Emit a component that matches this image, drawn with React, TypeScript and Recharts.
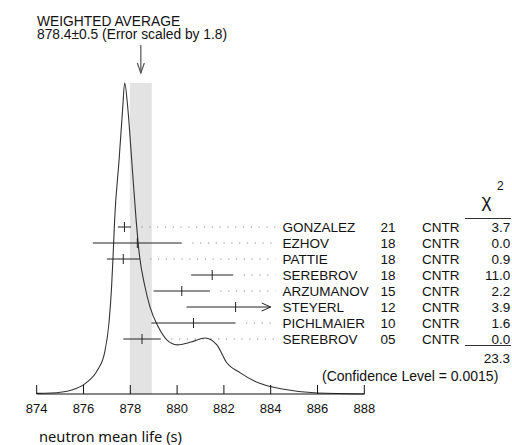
import React from "react";
import {
  ComposedChart,
  ErrorBar,
  Line,
  ReferenceArea,
  ReferenceDot,
  ReferenceLine,
  Scatter,
  XAxis,
  YAxis,
} from "recharts";

// ideogram curve (relative height, peak = 1)
const ideoX = [
  874.0, 874.6, 875.5, 876.1, 876.6, 876.9, 877.1, 877.2, 877.27, 877.33,
  877.52, 877.67, 877.76, 877.9, 878.06, 878.25, 878.38, 878.63, 878.84,
  879.2, 879.56, 880.0, 880.6, 881.2, 881.7, 882.1, 882.7, 883.5, 884.5,
  886.0, 888.0,
];
const ideoY = [
  0.002, 0.003, 0.013, 0.035, 0.077, 0.132, 0.238, 0.344, 0.453, 0.559,
  0.752, 0.913, 1.0, 0.913, 0.752, 0.559, 0.453, 0.344, 0.28, 0.215, 0.174,
  0.158, 0.167, 0.18, 0.158, 0.103, 0.068, 0.035, 0.016, 0.003, 0.0,
];

const names = [
  "GONZALEZ",
  "EZHOV",
  "PATTIE",
  "SEREBROV",
  "ARZUMANOV",
  "STEYERL",
  "PICHLMAIER",
  "SEREBROV",
];
const years = ["21", "18", "18", "18", "15", "12", "10", "05"];
const techs = ["CNTR", "CNTR", "CNTR", "CNTR", "CNTR", "CNTR", "CNTR", "CNTR"];
const values = [877.75, 878.3, 877.7, 881.5, 880.2, 882.5, 880.7, 878.5];
const errors = [0.28, 1.9, 0.7, 0.9, 1.2, 2.1, 1.8, 0.8];
const chi2 = ["3.7", "0.0", "0.9", "11.0", "2.2", "3.9", "1.6", "0.0"];

const xTicks = [874, 876, 878, 880, 882, 884, 886, 888];
const average = 878.45;
const averageErr = 0.47;
const chi2Total = "23.3";
const confidence = "0.0015";

const barLimit = 884.0; // bars running into the labels are cut with an arrow
const dotsEnd = 884.2;
const labelX = 884.5;

const curveData = ideoX.map((x, i) => ({ x, h: ideoY[i] }));
const rows = values.map((v, i) => ({
  x: v,
  row: i,
  err: [errors[i], Math.min(errors[i], barLimit - v)],
}));
const labelRows = names.map((n, i) => ({ x: labelX, row: i }));

const font = "'Liberation Sans', Arial, Helvetica, sans-serif";

function Marker(props: any) {
  const { cx, cy } = props;
  return <line x1={cx} x2={cx} y1={cy - 5} y2={cy + 5} stroke="#222" strokeWidth={1} />;
}

function RowLabel(props: any) {
  const { cx, cy, payload } = props;
  const i = payload.row;
  const y = cy + 5;
  return (
    <g fontSize={13.5} fill="#111">
      <text x={cx} y={y}>{names[i]}</text>
      <text x={cx + 98} y={y}>{years[i]}</text>
      <text x={cx + 139.5} y={y}>{techs[i]}</text>
      <text x={cx + 228} y={y} textAnchor="end">{chi2[i]}</text>
    </g>
  );
}

function ArrowHead(props: any) {
  const { cx, cy } = props;
  return (
    <path
      d={`M${cx - 9},${cy - 4} L${cx},${cy} L${cx - 9},${cy + 4}`}
      fill="none"
      stroke="#222"
      strokeWidth={1}
    />
  );
}

function AverageArrow(props: any) {
  const { cx, cy } = props;
  return (
    <g stroke="#555" strokeWidth={1.2} fill="none">
      <line x1={cx} x2={cx} y1={cy - 38} y2={cy - 10} />
      <path d={`M${cx - 3.5},${cy - 20} L${cx},${cy - 10} L${cx + 3.5},${cy - 20}`} />
    </g>
  );
}

export default function App() {
  return (
    <div
      style={{
        position: "absolute",
        left: 0,
        top: 0,
        width: 512,
        height: 445,
        background: "#fff",
        fontFamily: font,
      }}
    >
      <ComposedChart
        width={512}
        height={445}
        margin={{ top: 68, right: 147.7, bottom: 21, left: 36.7 }}
      >
        <XAxis
          dataKey="x"
          type="number"
          domain={[874, 888]}
          ticks={xTicks}
          height={30}
          stroke="#111"
          tickSize={-9}
          tickMargin={19}
          tick={{ fontSize: 13, fill: "#111" }}
        />
        <YAxis
          yAxisId="h"
          dataKey="h"
          type="number"
          domain={[0, 1.048]}
          width={0}
          tick={false}
          tickLine={false}
          stroke="#111"
        />
        <YAxis
          yAxisId="rows"
          dataKey="row"
          type="number"
          domain={[-9.9375, 10.4375]}
          reversed
          hide
        />
        <ReferenceArea
          yAxisId="h"
          x1={average - averageErr}
          x2={average + averageErr}
          y1={0}
          y2={1}
          fill="#e3e3e3"
          fillOpacity={1}
          stroke="none"
        />
        {rows
          .filter((r) => r.x + r.err[1] < barLimit - 0.3)
          .map((r) => (
            <ReferenceLine
              key={`dots-${r.row}`}
              yAxisId="rows"
              segment={[
                { x: r.x + r.err[1] + 0.45, y: r.row },
                { x: dotsEnd, y: r.row },
              ]}
              stroke="#888"
              strokeDasharray="1.2 6.6"
              strokeWidth={1}
            />
          ))}
        <Line
          yAxisId="h"
          data={curveData}
          dataKey="h"
          type="monotone"
          stroke="#333"
          strokeWidth={1.1}
          dot={false}
          isAnimationActive={false}
        />
        <Scatter
          yAxisId="rows"
          data={rows}
          dataKey="row"
          shape={Marker}
          isAnimationActive={false}
        >
          <ErrorBar dataKey="err" direction="x" width={0} stroke="#222" strokeWidth={1} />
        </Scatter>
        {rows
          .filter((r) => r.err[1] < r.err[0])
          .map((r) => (
            <ReferenceDot
              key={`arrow-${r.row}`}
              yAxisId="rows"
              x={barLimit}
              y={r.row}
              shape={ArrowHead}
            />
          ))}
        <Scatter
          yAxisId="rows"
          data={labelRows}
          dataKey="row"
          shape={RowLabel}
          isAnimationActive={false}
        />
        <ReferenceDot
          yAxisId="h"
          x={average}
          y={1}
          ifOverflow="visible"
          shape={AverageArrow}
        />
      </ComposedChart>
      <svg
        width={512}
        height={445}
        style={{ position: "absolute", left: 0, top: 0, pointerEvents: "none" }}
      >
        <g fill="#111" fontSize={13.8}>
          <text x={37} y={25.5}>WEIGHTED AVERAGE</text>
          <text x={37} y={39}>878.4±0.5 (Error scaled by 1.8)</text>
        </g>
        <text x={481.5} y={207} fontSize={19} fill="#111">χ</text>
        <text x={497} y={190} fontSize={12} fill="#111">2</text>
        <line x1={465} x2={511} y1={218.5} y2={218.5} stroke="#333" />
        <line x1={465} x2={511} y1={345.5} y2={345.5} stroke="#333" />
        <text x={510} y={363} fontSize={13.5} fill="#111" textAnchor="end">
          {chi2Total}
        </text>
        <text x={322} y={381} fontSize={14} fill="#111">
          (Confidence Level = {confidence})
        </text>
        <text x={39} y={442} fontSize={14.7} fill="#111" fontFamily="'Noto Sans', sans-serif">
          neutron mean life (s)
        </text>
      </svg>
    </div>
  );
}
